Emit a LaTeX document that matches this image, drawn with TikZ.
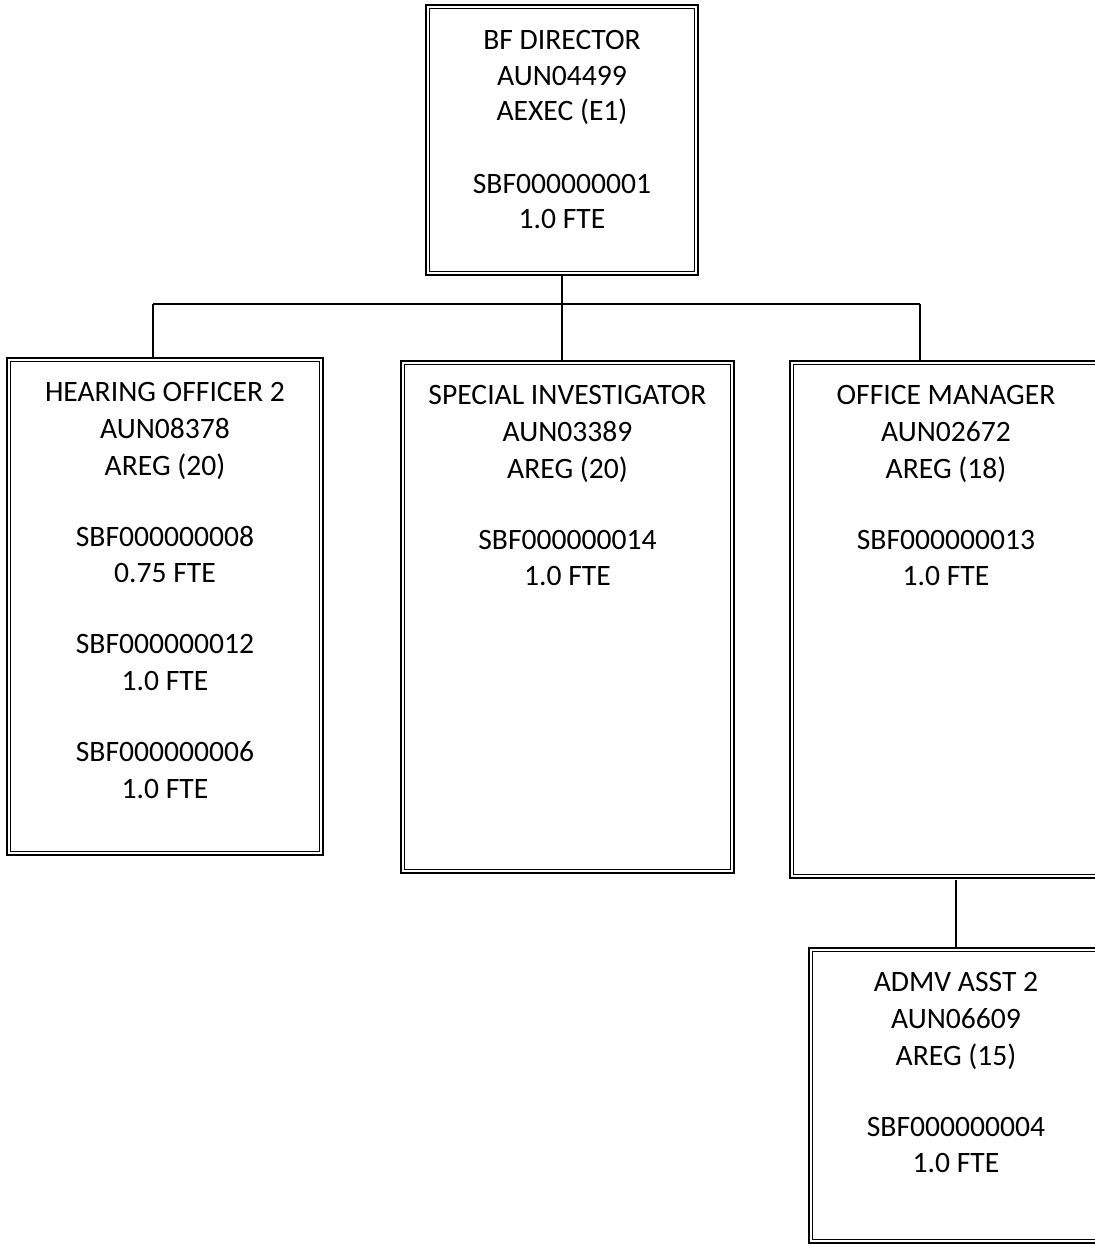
\documentclass[tikz,border=0pt]{standalone}
\usepackage{fontspec}
\setmainfont{Carlito}
\usetikzlibrary{positioning}

\begin{document}
\begin{tikzpicture}[x=0.5pt,y=-0.5pt,
		post/.style={draw, double, double distance=1.1pt, line width=0.8pt, inner sep=0pt},
		info/.style={align=center, inner sep=0pt, font=\fontsize{14.8}{18.4}\selectfont},
		link/.style={line width=0.75pt}]
		\useasboundingbox (0,0) rectangle (1095,1247);
		\clip (0,0) rectangle (1095,1247);
		% boxes
		\node[post, minimum width=134.3pt, minimum height=133.3pt] (dir) at (562,140) {};
		\node[post, minimum width=156.3pt, minimum height=246.8pt] (ho) at (165,606.5) {};
		\node[post, minimum width=164.8pt, minimum height=254.3pt] (si) at (567.5,617) {};
		\node[post, minimum width=154.3pt, minimum height=256.8pt] (om) at (946,619.5) {};
		\node[post, minimum width=145.3pt, minimum height=145.8pt] (admv) at (956,1095.5) {};
		% texts
		\node[info, font=\fontsize{14.8}{17.75}\selectfont, below=12.1pt of dir.north] (dirtxt) {BF DIRECTOR\\AUN04499\\AEXEC (E1)\\[18.5pt]SBF000000001\\1.0 FTE};
		\node[info, below=11.6pt of ho.north] (hotxt) {HEARING OFFICER 2\\AUN08378\\AREG (20)\\[17pt]SBF000000008\\0.75 FTE\\[17pt]SBF000000012\\1.0 FTE\\[17pt]SBF000000006\\1.0 FTE};
		\node[info, below=11.6pt of si.north] (sitxt) {SPECIAL INVESTIGATOR\\AUN03389\\AREG (20)\\[17pt]SBF000000014\\1.0 FTE};
		\node[info, below=11.6pt of om.north] (omtxt) {OFFICE MANAGER\\AUN02672\\AREG (18)\\[17pt]SBF000000013\\1.0 FTE};
		\node[info, below=11.6pt of admv.north] (admvtxt) {ADMV ASST 2\\AUN06609\\AREG (15)\\[17pt]SBF000000004\\1.0 FTE};
		% connectors
		\coordinate (lbar) at (153,304);
		\coordinate (rbar) at (920,304);
		\draw[link] (lbar) -- (rbar);
		\draw[link] (dir.south) -- (dir.south |- si.north);
		\draw[link] (lbar) -- (lbar |- ho.north);
		\draw[link] (rbar) -- (rbar |- om.north);
		\draw[link] ([yshift=-1.5pt]om.south -| admv.north) -- (admv.north);
	\end{tikzpicture}
\end{document}
